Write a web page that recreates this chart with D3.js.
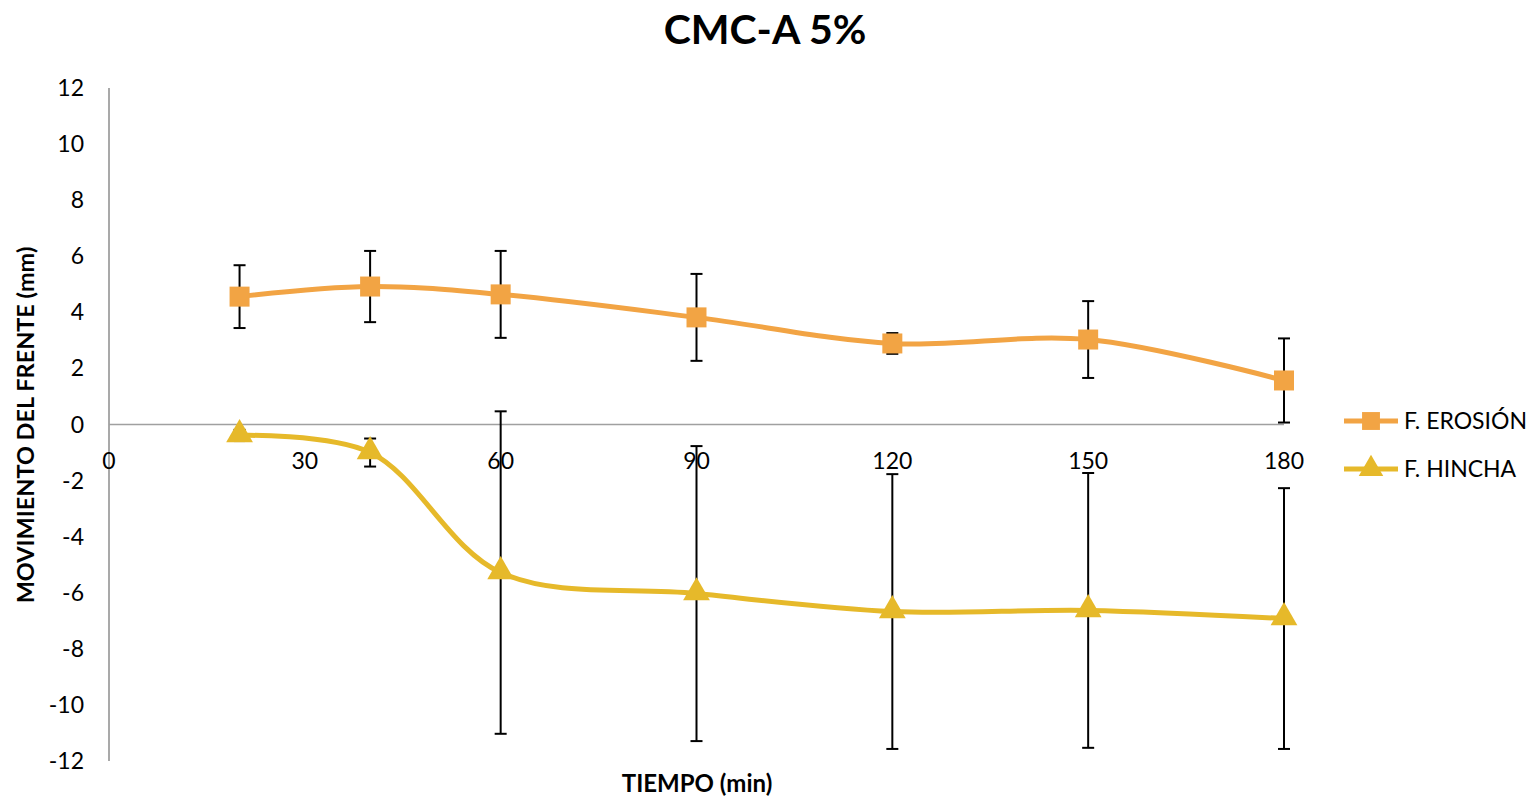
<!DOCTYPE html>
<html><head><meta charset="utf-8">
<script src="https://cdn.jsdelivr.net/npm/d3@7"></script>
<style>body{margin:0;background:#fff;}svg{display:block;font-family:Lato,"Open Sans",sans-serif;}</style>
</head><body>
<svg id="c" width="1537" height="798"></svg>
<script>
const times = [20, 40, 60, 90, 120, 150, 180];
const erosion = [4.56, 4.92, 4.64, 3.82, 2.89, 3.03, 1.57];
const erosionErr = [1.12, 1.27, 1.55, 1.55, 0.37, 1.37, 1.5];
const hincha = [-0.39, -1.0, -5.28, -6.03, -6.67, -6.63, -6.92];
const hinchaErr = [0.2, 0.5, 5.75, 5.26, 4.9, 4.9, 4.65];
const xTicks = [0, 30, 60, 90, 120, 150, 180];
const yTicks = [12, 10, 8, 6, 4, 2, 0, -2, -4, -6, -8, -10, -12];
const seriesNames = ["F. EROSIÓN", "F. HINCHA"];
const colors = ["#F2A444", "#E6B92A"];

const svg = d3.select("#c");
const x = d3.scaleLinear().domain([0, 180]).range([109, 1284]);
const y = d3.scaleLinear().domain([-12, 12]).range([761, 88]);

svg.append("text").attr("x", 765).attr("y", 44).attr("text-anchor", "middle")
  .attr("font-size", 41).attr("font-weight", "bold").text("CMC-A 5%");

// axes lines
svg.append("line").attr("x1", x(0)).attr("x2", x(0)).attr("y1", y(12)).attr("y2", y(-12))
  .attr("stroke", "#8c8c8c").attr("stroke-width", 1.5);
svg.append("line").attr("x1", x(0)).attr("x2", x(180)).attr("y1", y(0)).attr("y2", y(0))
  .attr("stroke", "#a0a0a0").attr("stroke-width", 1.5);

// y tick labels
svg.selectAll(".yt").data(yTicks).enter().append("text")
  .attr("x", 84).attr("y", d => y(d)).attr("dy", "0.35em").attr("text-anchor", "end")
  .attr("font-size", 23).attr("fill", "#000").text(d => d);
// x tick labels
svg.selectAll(".xt").data(xTicks).enter().append("text")
  .attr("x", d => x(d)).attr("y", 461).attr("dy", "0.35em").attr("text-anchor", "middle")
  .attr("font-size", 23).attr("fill", "#000").text(d => d);

// axis titles
svg.append("text").attr("transform", "translate(34,425) rotate(-90)").attr("text-anchor", "middle")
  .attr("font-size", 23.5).attr("font-weight", "bold").text("MOVIMIENTO DEL FRENTE (mm)");
svg.append("text").attr("x", 697).attr("y", 792).attr("text-anchor", "middle")
  .attr("font-size", 24).attr("font-weight", "bold").text("TIEMPO (min)");

const series = [
  {vals: erosion, err: erosionErr, color: colors[0], marker: "square"},
  {vals: hincha, err: hinchaErr, color: colors[1], marker: "triangle"}
];
const line = d3.line().x(d => x(d[0])).y(d => y(d[1])).curve(d3.curveCatmullRom.alpha(0.5));

series.forEach(s => {
  const pts = times.map((t, i) => [t, s.vals[i], s.err[i]]);
  // error bars
  const eb = svg.append("g").attr("stroke", "#000").attr("stroke-width", 2);
  pts.forEach(p => {
    const xx = x(p[0]), y1 = y(p[1] + p[2]), y2 = y(p[1] - p[2]);
    eb.append("line").attr("x1", xx).attr("x2", xx).attr("y1", y1).attr("y2", y2);
    eb.append("line").attr("x1", xx - 6).attr("x2", xx + 6).attr("y1", y1).attr("y2", y1);
    eb.append("line").attr("x1", xx - 6).attr("x2", xx + 6).attr("y1", y2).attr("y2", y2);
  });
  svg.append("path").datum(pts).attr("d", line).attr("fill", "none")
    .attr("stroke", s.color).attr("stroke-width", 5).attr("stroke-linecap", "round");
  const sym = s.marker === "square" ? d3.symbolSquare : d3.symbolTriangle;
  const size = s.marker === "square" ? 400 : 310;
  svg.selectAll(null).data(pts).enter().append("path")
    .attr("transform", d => `translate(${x(d[0])},${y(d[1]) + (s.marker === "triangle" ? -1 : 0)})`)
    .attr("d", d3.symbol().type(sym).size(size)).attr("fill", s.color);
});

// legend
const legY = [421, 469];
seriesNames.forEach((n, i) => {
  const g = svg.append("g");
  g.append("line").attr("x1", 1344).attr("x2", 1398).attr("y1", legY[i]).attr("y2", legY[i])
    .attr("stroke", colors[i]).attr("stroke-width", 5);
  g.append("path").attr("transform", `translate(1371,${legY[i]})`)
    .attr("d", d3.symbol().type(i === 0 ? d3.symbolSquare : d3.symbolTriangle).size(i === 0 ? 320 : 260))
    .attr("fill", colors[i]);
  g.append("text").attr("x", 1404).attr("y", legY[i]).attr("dy", "0.35em")
    .attr("font-size", 23).text(n);
});
</script>
</body></html>
